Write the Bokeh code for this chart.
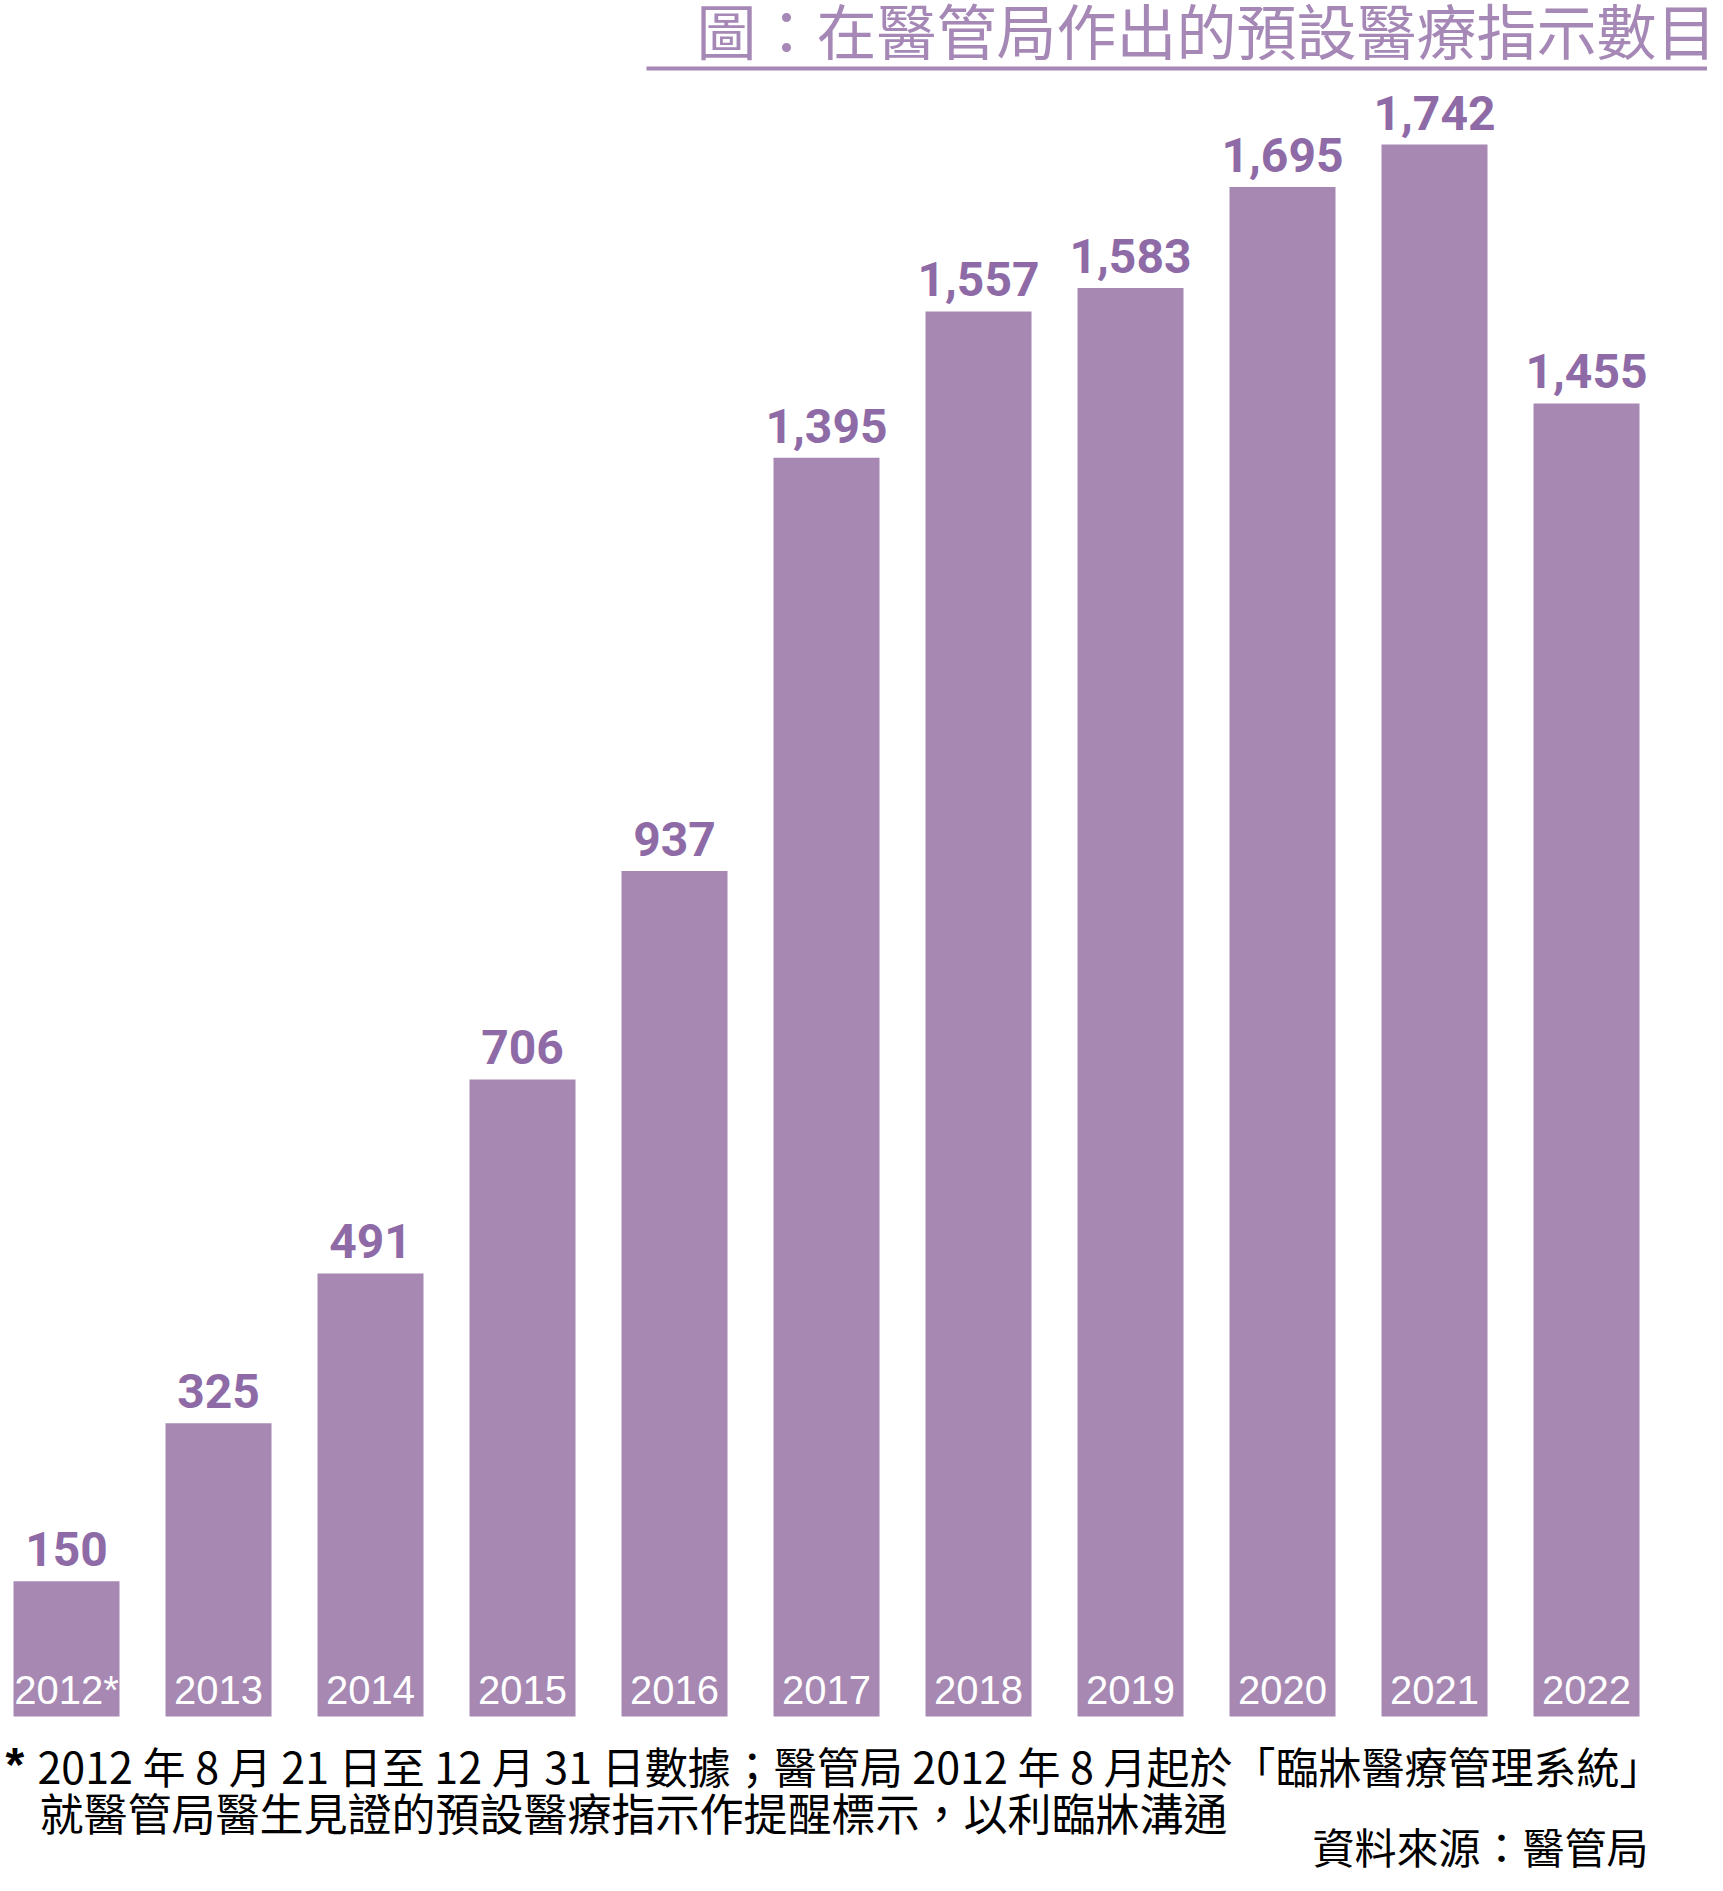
from bokeh.plotting import figure
from bokeh.models import ColumnDataSource, LabelSet, Label, Range1d
from bokeh.core.properties import value
from bokeh.embed import file_html
from bokeh.resources import INLINE

# ---- data ----
years = ["2012*", "2013", "2014", "2015", "2016", "2017", "2018", "2019", "2020", "2021", "2022"]
counts = [150, 325, 491, 706, 937, 1395, 1557, 1583, 1695, 1742, 1455]

title_text = "圖：在醫管局作出的預設醫療指示數目"
note_star = "*"
note_line1 = "2012 年 8 月 21 日至 12 月 31 日數據；醫管局 2012 年 8 月起於「臨牀醫療管理系統」"
note_line2 = "就醫管局醫生見證的預設醫療指示作提醒標示，以利臨牀溝通"
source_text = "資料來源：醫管局"

BAR = "#a688b3"
LABEL = "#8e6ba6"
TITLE = "#a688b6"

W, H = 1707, 1875
# layout helpers: picture pixels -> data coords
K = 1572 / 1742.0      # px per unit
Y0 = 1716              # y of value 0
X0, PITCH = 66, 152    # x of first bar centre, bar pitch

def py(Y):
    return (Y0 - Y) / K

def px(X):
    return (X - X0) / PITCH

src = ColumnDataSource(dict(
    x=list(range(len(years))),
    year=years,
    value=counts,
    zero=[0] * len(years),
    label=[f"{v:,}" for v in counts],
))

p = figure(width=W, height=H, output_backend="svg", toolbar_location=None,
           x_range=Range1d(px(0), px(W)), y_range=Range1d(py(H), py(0)),
           min_border=0, outline_line_color=None)
p.axis.visible = False
p.grid.visible = False
p.background_fill_color = "white"

p.vbar(x="x", top="value", bottom=0, width=106 / PITCH, source=src,
       fill_color=BAR, line_color=None)

p.add_layout(LabelSet(x="x", y="value", text="label", source=src,
                      text_align="center", text_baseline="alphabetic", y_offset=15,
                      text_font=value("Roboto"), text_font_style="bold",
                      text_font_size="48px", text_color=LABEL))

p.add_layout(LabelSet(x="x", y="zero", text="year", source=src,
                      text_align="center", text_baseline="alphabetic", y_offset=13,
                      text_font=value("Liberation Sans"),
                      text_font_size="40px", text_color="white"))

# title + underline
p.add_layout(Label(x=px(1716), y=py(28), text=title_text, text_align="right",
                   text_baseline="middle", text_font="Noto Sans CJK TC",
                   text_font_size="60px", text_color=TITLE))
p.segment(x0=[px(646)], y0=[py(68)], x1=[px(1721)], y1=[py(68)],
          line_color=TITLE, line_width=4)

# footnotes
CJK = "Noto Sans CJK TC"
p.add_layout(Label(x=px(5), y=py(1764), text=note_star, text_align="left",
                   text_baseline="middle", text_font="Liberation Sans",
                   text_font_style="bold", text_font_size="48px", text_color="black"))
p.add_layout(Label(x=px(37), y=py(1764), text=note_line1, text_align="left",
                   text_baseline="middle", text_font=CJK,
                   text_font_size="43px", text_color="black"))
p.add_layout(Label(x=px(39), y=py(1811), text=note_line2, text_align="left",
                   text_baseline="middle", text_font=CJK,
                   text_font_size="44px", text_color="black"))
p.add_layout(Label(x=px(1648), y=py(1845), text=source_text, text_align="right",
                   text_baseline="middle", text_font=CJK,
                   text_font_size="42px", text_color="black"))

open("out.html", "w").write(file_html(p, INLINE))
